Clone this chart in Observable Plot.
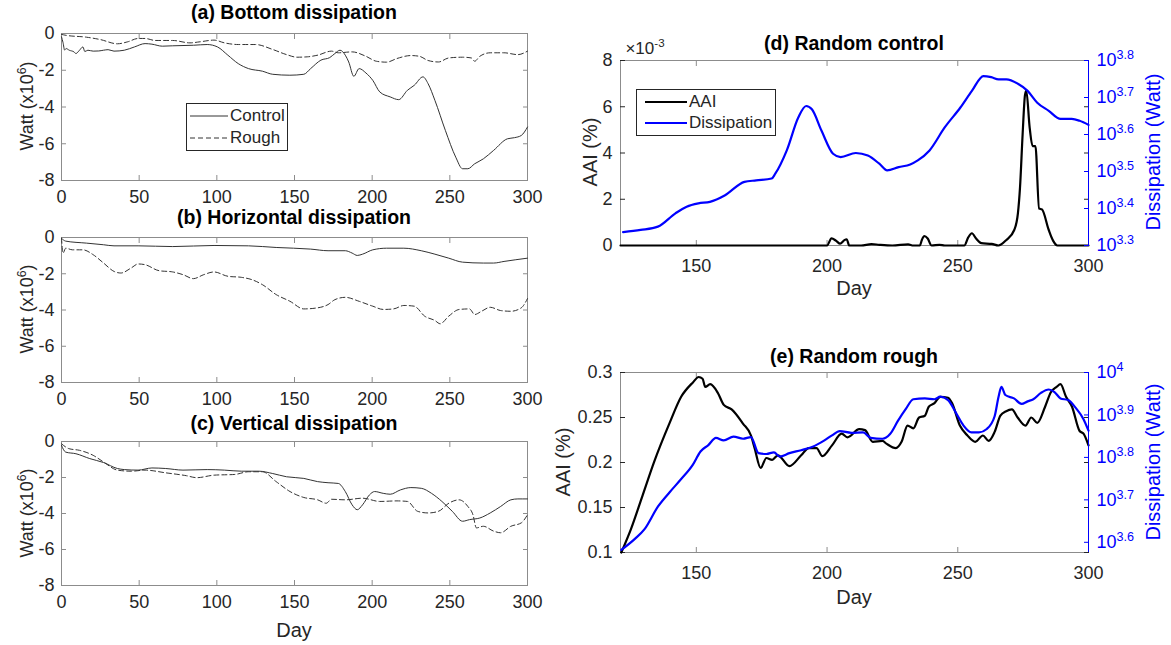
<!DOCTYPE html>
<html><head><meta charset="utf-8">
<script src="https://cdn.jsdelivr.net/npm/d3@7"></script>
<script src="https://cdn.jsdelivr.net/npm/@observablehq/plot@0.6"></script>
<style>
body{margin:0;background:#fff;}
#root{position:relative;width:1171px;height:645px;font-family:"Liberation Sans",Arial,sans-serif;color:#262626;overflow:hidden;background:#fff}
#root svg.pl{position:absolute;max-width:none}
.lab{position:absolute;white-space:nowrap;transform:translate(-50%,-50%);line-height:1}
.rot{transform:translate(-50%,-50%) rotate(-90deg)}
.ttl{font-weight:bold;font-size:19.5px;color:#000}
sup{font-size:0.68em;vertical-align:0.6em;line-height:0}
.leg{position:absolute;background:#fff;border:1px solid #262626;box-sizing:border-box}
.row{position:absolute;display:flex;align-items:center;white-space:nowrap}
</style></head><body><div id="root"></div>
<script>
// ---------- data ----------
const xTicksLeft = [0, 50, 100, 150, 200, 250, 300];
const yTicksLeft = [-8, -6, -4, -2, 0];
const xTicksRight = [150, 200, 250, 300];
const xDomainRight = [121, 300];
const aaiTicksD = [0, 2, 4, 6, 8];          // x10^-3
const aaiTicksE = [0.1, 0.15, 0.2, 0.25, 0.3];
const dissTicksD = [3.3, 3.4, 3.5, 3.6, 3.7, 3.8];  // log10 Watt
const dissTicksE = [3.6, 3.7, 3.8, 3.9, 4.0];

// (a) Bottom dissipation  [day, Watt x10^6]
const aControl = [[0,-0.18],[1,-0.5],[2,-0.9],[3,-0.82],[5,-0.91],[8,-1.0],[9.3,-1.09],[11.6,-0.91],[13.8,-0.73],[15,-0.98],[17,-0.91],[20.4,-0.96],[24,-0.95],[27,-0.91],[30,-0.88],[33.8,-0.96],[40.4,-0.91],[47,-0.73],[53.8,-0.55],[58.2,-0.58],[64.9,-0.69],[71.6,-0.67],[84.9,-0.64],[93.8,-0.6],[100.4,-0.73],[107.1,-1.18],[113.8,-1.64],[120.4,-1.91],[129.3,-2.05],[136,-2.22],[147,-2.27],[156,-2.22],[160.4,-1.91],[167,-1.45],[172.7,-1.31],[176,-1.09],[179.3,-0.91],[182.7,-1.18],[184.9,-1.55],[188.2,-2.33],[191.6,-1.91],[196,-2.15],[200.4,-2.55],[204.9,-3.18],[211.6,-3.45],[217.1,-3.6],[222.7,-3.09],[227.1,-2.82],[232.7,-2.36],[236,-2.73],[240.4,-3.64],[247.1,-5.27],[253.8,-6.73],[258.2,-7.36],[261.6,-7.36],[266,-7.09],[271.6,-6.82],[278.2,-6.36],[287.1,-5.73],[291.6,-5.67],[296,-5.55],[300,-5.09]];
const aRough = [[0,-0.05],[3,-0.1],[16,-0.2],[25,-0.33],[36,-0.56],[42.7,-0.45],[49.3,-0.27],[53.8,-0.27],[60.4,-0.38],[71.6,-0.38],[82.7,-0.51],[89.3,-0.45],[98.2,-0.36],[104.9,-0.51],[113.8,-0.6],[124.9,-0.6],[136,-0.87],[144.9,-1.15],[151.6,-1.29],[158.2,-1.27],[164.9,-1.18],[173.8,-0.96],[178.2,-1.05],[187.1,-1.0],[196,-1.24],[202.7,-1.51],[209.3,-1.56],[216,-1.36],[224.9,-1.2],[230.4,-1.24],[236,-1.47],[242.7,-1.55],[249.3,-1.33],[258.2,-1.29],[263.8,-1.33],[266,-1.51],[269.3,-1.24],[276,-1.05],[284.9,-1.05],[293.8,-1.15],[300,-0.96]];

// (b) Horizontal dissipation
const bControl = [[0,-0.04],[2.7,-0.2],[16,-0.31],[27.1,-0.4],[33.8,-0.46],[49.3,-0.46],[71.6,-0.5],[98.2,-0.44],[120.4,-0.46],[138.2,-0.55],[160.4,-0.64],[171.6,-0.73],[182.7,-0.73],[187.1,-0.86],[190.4,-0.99],[193.8,-0.92],[200.4,-0.68],[209.3,-0.59],[220.4,-0.59],[231.6,-0.73],[240.4,-0.92],[249.3,-1.14],[258.2,-1.36],[271.6,-1.41],[278.2,-1.41],[284.9,-1.32],[300,-1.14]];
const bRough = [[0,-0.04],[1,-0.86],[2.7,-0.59],[7.1,-0.68],[13.8,-0.68],[20.4,-0.95],[27.1,-1.41],[33.8,-1.87],[38.2,-1.96],[44.9,-1.68],[49.3,-1.46],[53.8,-1.5],[62.7,-1.83],[71.6,-1.9],[78.2,-2.05],[84.9,-2.27],[91.6,-2.05],[98.2,-1.9],[107.1,-2.14],[116,-2.2],[122.7,-2.33],[129.3,-2.6],[138.2,-3.15],[147.1,-3.52],[156,-3.94],[164.9,-3.88],[171.6,-3.7],[176,-3.43],[182.7,-3.3],[191.6,-3.52],[200.4,-3.79],[207.1,-3.97],[213.8,-3.94],[220.4,-3.75],[227.1,-3.79],[233.8,-4.34],[240.4,-4.58],[243.8,-4.76],[249.3,-4.34],[256,-3.97],[262.7,-3.94],[266,-4.25],[270.4,-4.07],[276,-3.85],[282.7,-4.03],[289.3,-4.07],[296,-3.88],[300,-3.37]];

// (c) Vertical dissipation
const cControl = [[0,-0.22],[2.7,-0.59],[9.3,-0.68],[18.2,-0.95],[27.1,-1.17],[36,-1.5],[40.4,-1.56],[49.3,-1.59],[58.2,-1.47],[67.1,-1.5],[78.2,-1.59],[93.8,-1.56],[104.9,-1.59],[116,-1.65],[127.1,-1.65],[136,-1.78],[144.9,-1.96],[156,-2.05],[164.9,-2.23],[171.6,-2.29],[178.2,-2.33],[182.7,-2.78],[187.1,-3.52],[190.4,-3.79],[193.8,-3.52],[198.2,-2.97],[201.6,-2.78],[207.1,-2.88],[211.6,-2.93],[218.2,-2.69],[224.9,-2.56],[231.6,-2.6],[238.2,-2.88],[244.9,-3.33],[251.6,-3.88],[258.2,-4.43],[262.7,-4.34],[269.3,-4.25],[276,-3.97],[282.7,-3.61],[289.3,-3.24],[293.8,-3.19],[300,-3.19]];
const cRough = [[0,-0.13],[4.9,-0.4],[11.6,-0.49],[20.4,-0.77],[27.1,-1.14],[36,-1.59],[44.9,-1.65],[53.8,-1.59],[67.1,-1.74],[80.4,-1.9],[87.1,-2.01],[98.2,-1.87],[111.6,-1.83],[120.4,-1.68],[129.3,-1.68],[138.2,-2.23],[147.1,-2.78],[156,-3.11],[164.9,-3.24],[170.4,-3.43],[173.8,-3.21],[182.7,-3.24],[193.8,-3.15],[204.9,-3.33],[216,-3.3],[222.7,-3.33],[229.3,-3.88],[236,-3.97],[242.7,-3.88],[249.3,-3.43],[256,-3.24],[261.6,-3.61],[264.9,-4.07],[267.1,-4.8],[271.6,-4.71],[278.2,-4.98],[282.7,-5.07],[289.3,-4.71],[296,-4.52],[300,-4.07]];

// (d) Random control: AAI (x10^-3 %), dissipation (log10 Watt)
const dAAI = [[121,0],[200,0],[201.7,0.31],[203.5,0.2],[205,0.08],[206.5,0.22],[207.5,0.27],[208.5,0],[213,0],[217,0.06],[220,0.03],[225,0],[231,0.05],[233,0],[235.5,0],[236.3,0.25],[237.2,0.41],[238.5,0.3],[240,0],[243,0.03],[245,0],[252.5,0],[254,0.35],[255.4,0.53],[257,0.3],[259,0.1],[263,0.07],[265.5,0],[268.6,0.24],[271.6,0.67],[273,1.39],[273.8,2.5],[274.8,4.8],[275.7,6.5],[276.2,6.7],[277.5,5.1],[278.6,4.3],[279.7,4.3],[281.1,1.6],[282.2,1.56],[284.8,0.67],[286.5,0.2],[288.1,0],[300,0]];
const dDiss = [[122,3.336],[128.7,3.342],[135.3,3.351],[142,3.387],[146.3,3.405],[150.8,3.414],[155.2,3.418],[161,3.436],[168.4,3.472],[172.9,3.476],[178.8,3.481],[180.2,3.494],[184.6,3.557],[189,3.646],[192,3.677],[194.2,3.668],[197.9,3.61],[202.3,3.548],[205.2,3.539],[211,3.55],[215.6,3.543],[220,3.521],[223,3.503],[227.4,3.512],[231.8,3.519],[234.7,3.53],[239.2,3.557],[245,3.619],[251,3.673],[255.4,3.718],[259.8,3.758],[262.8,3.755],[265.6,3.749],[268.6,3.749],[273,3.737],[276.7,3.718],[280.4,3.686],[284.8,3.664],[289.3,3.642],[293.6,3.642],[296.6,3.637],[300,3.626]];

// (e) Random rough
const eAAI = [[121.3,0.1],[125,0.126],[129.4,0.163],[133.9,0.201],[139.8,0.244],[144.2,0.273],[148.7,0.289],[150.9,0.295],[152.4,0.293],[153.4,0.284],[155.3,0.287],[158.3,0.277],[160.5,0.264],[163.5,0.259],[167.9,0.243],[170.9,0.23],[172.3,0.216],[174.6,0.194],[176.8,0.205],[179,0.203],[181.2,0.208],[185.6,0.196],[190.1,0.208],[193,0.216],[196,0.216],[198.2,0.207],[201.9,0.219],[205.6,0.232],[207.8,0.228],[212.3,0.237],[214.5,0.236],[217.5,0.223],[221.2,0.224],[222.7,0.221],[226.3,0.216],[228.5,0.223],[230.8,0.241],[233,0.238],[235.2,0.25],[237.4,0.252],[238.9,0.262],[241.1,0.266],[243.3,0.273],[246.3,0.272],[247.8,0.266],[250.8,0.241],[253.7,0.23],[256.7,0.223],[259.6,0.23],[261.8,0.224],[264.1,0.234],[266.3,0.252],[268.5,0.257],[270.7,0.259],[272.9,0.25],[275.9,0.241],[278.1,0.25],[280.4,0.244],[283.4,0.262],[285.6,0.278],[287.8,0.284],[289.3,0.287],[291.4,0.273],[293.7,0.262],[296.6,0.235],[298.1,0.232],[300,0.219]];
const eDiss = [[121.3,3.582],[126.5,3.608],[130.2,3.631],[135.3,3.684],[139.8,3.718],[144.2,3.749],[148.7,3.783],[151.6,3.814],[154.6,3.829],[157.5,3.846],[160.5,3.84],[164.2,3.849],[167.9,3.844],[170.9,3.848],[173.8,3.81],[176.8,3.808],[179.7,3.812],[181.9,3.802],[185.6,3.81],[190.1,3.817],[194.5,3.825],[199,3.84],[201.9,3.852],[204.9,3.862],[209.3,3.858],[213.8,3.859],[216.7,3.846],[221.2,3.844],[224.1,3.855],[227.1,3.886],[230,3.913],[233,3.937],[237.4,3.939],[241.1,3.937],[243.3,3.943],[246.3,3.935],[249.3,3.905],[252.2,3.875],[255.2,3.859],[258.1,3.859],[261.1,3.867],[264.1,3.897],[265.6,3.943],[266.7,3.966],[268.2,3.947],[271.5,3.939],[274.4,3.926],[276.7,3.932],[278.9,3.937],[281.8,3.952],[284.8,3.96],[287,3.954],[289.3,3.939],[292.2,3.935],[295.2,3.916],[298.1,3.89],[300,3.863]];

// ---------- rendering ----------
const root = document.getElementById("root");
const FONT = "Liberation Sans, Arial, Helvetica, sans-serif";
const AXC = "#8c8c8c", TXT = "#262626", BLUE = "#0000ff";
const baseStyle = {fontFamily: FONT, fontSize: "18px", color: TXT, background: "none", overflow: "visible"};
const fmt = d => String(+d.toFixed(2));
const CURVE = "monotone-x";

function place(svg, left, top) {
  svg.classList.add("pl");
  svg.style.left = left + "px";
  svg.style.top = top + "px";
  root.appendChild(svg);
}
function label(html, x, y, cls, extra) {
  const el = document.createElement("div");
  el.className = "lab " + (cls || "");
  el.innerHTML = html;
  el.style.left = x + "px"; el.style.top = y + "px";
  Object.assign(el.style, extra || {});
  root.appendChild(el);
}
function superscript(svg) {
  svg.querySelectorAll("text").forEach(t => {
    const s = t.textContent;
    if (s.startsWith("10^")) {
      t.textContent = "10";
      const ts = document.createElementNS("http://www.w3.org/2000/svg", "tspan");
      ts.setAttribute("dy", "-0.55em");
      ts.setAttribute("font-size", "0.7em");
      ts.textContent = s.slice(3);
      t.appendChild(ts);
    }
  });
}

function leftPanel(frameTop, frameBottom, ctrl, rough) {
  const mt = 10, mb = 30;
  const svg = Plot.plot({
    width: 560, height: frameBottom - frameTop + mt + mb,
    marginLeft: 61, marginRight: 33, marginTop: mt, marginBottom: mb,
    style: baseStyle,
    x: {domain: [0, 300], axis: null},
    y: {domain: [-8, 0], axis: null},
    marks: [
      Plot.frame({stroke: AXC}),
      Plot.axisX({ticks: xTicksLeft, anchor: "bottom", tickSize: -5, tickPadding: 15, stroke: AXC, fill: TXT, label: null, tickFormat: d => String(d)}),
      Plot.axisX({ticks: xTicksLeft, anchor: "top", tickSize: -5, stroke: AXC, label: null, tickFormat: () => ""}),
      Plot.axisY({ticks: yTicksLeft, anchor: "left", tickSize: -5, tickPadding: 12, stroke: AXC, fill: TXT, label: null, tickFormat: d => String(d)}),
      Plot.axisY({ticks: yTicksLeft, anchor: "right", tickSize: -5, stroke: AXC, label: null, tickFormat: () => ""}),
      Plot.line(ctrl, {x: d => d[0], y: d => d[1], stroke: "#333", strokeWidth: 1, curve: CURVE}),
      Plot.line(rough, {x: d => d[0], y: d => d[1], stroke: "#333", strokeWidth: 1, strokeDasharray: "5,3", curve: CURVE})
    ]
  });
  place(svg, 0, frameTop - mt);
}

function rightPanel(frameTop, frameBottom, aai, aaiDomain, aaiTicks, diss, dissDomainLog, dissTicks) {
  const mt = 10, mb = 34, W = 611, ml = 60, mr = 83;
  const H = frameBottom - frameTop + mt + mb;
  const base = Plot.plot({
    width: W, height: H, marginLeft: ml, marginRight: mr, marginTop: mt, marginBottom: mb,
    style: baseStyle,
    x: {domain: xDomainRight, axis: null},
    y: {domain: aaiDomain, axis: null},
    marks: [
      Plot.frame({stroke: AXC}),
      Plot.axisX({ticks: xTicksRight, anchor: "bottom", tickSize: -5, tickPadding: 19, stroke: AXC, fill: TXT, label: null, tickFormat: d => String(d)}),
      Plot.axisX({ticks: xTicksRight, anchor: "top", tickSize: -5, stroke: AXC, label: null, tickFormat: () => ""}),
      Plot.axisY({ticks: aaiTicks, anchor: "left", tickSize: -5, tickPadding: 13, stroke: "#262626", fill: TXT, label: null, tickFormat: fmt}),
      Plot.axisY({ticks: aaiTicks, anchor: "right", tickSize: -5, stroke: "#262626", label: null, tickFormat: () => ""}),
      Plot.line(aai, {x: d => d[0], y: d => d[1], stroke: "#000", strokeWidth: 2.2, curve: CURVE})
    ]
  });
  place(base, 560, frameTop - mt);
  const over = Plot.plot({
    width: W, height: H, marginLeft: ml, marginRight: mr, marginTop: mt, marginBottom: mb,
    style: baseStyle,
    x: {domain: xDomainRight, axis: null},
    y: {type: "log", domain: dissDomainLog.map(v => 10 ** v), axis: null},
    marks: [
      Plot.ruleX([xDomainRight[1]], {stroke: BLUE, strokeWidth: 1}),
      Plot.axisY({ticks: dissTicks.map(v => 10 ** v), anchor: "right", tickSize: -5, tickPadding: 13, stroke: BLUE, fill: BLUE, label: null,
                  tickFormat: d => "10^" + (+Math.log10(d).toFixed(1))}),
      Plot.line(diss, {x: d => d[0], y: d => 10 ** d[1], stroke: BLUE, strokeWidth: 2.2, curve: CURVE})
    ]
  });
  superscript(over);
  place(over, 560, frameTop - mt);
}

leftPanel(33, 180, aControl, aRough);
leftPanel(237, 382, bControl, bRough);
leftPanel(441, 585, cControl, cRough);
rightPanel(60, 245, dAAI, [0, 8], aaiTicksD, dDiss, [3.3, 3.8], dissTicksD);
rightPanel(372, 552, eAAI, [0.1, 0.3], aaiTicksE, eDiss, [3.576, 4.0], dissTicksE);

// titles
label("(a) Bottom dissipation", 294, 13, "ttl");
label("(b) Horizontal dissipation", 294, 218, "ttl");
label("(c) Vertical dissipation", 294, 424, "ttl");
label("(d) Random control", 854, 44, "ttl");
label("(e) Random rough", 854, 357, "ttl");

// axis labels
const wl = {fontSize: "18px"};
label("Watt (x10<sup>6</sup>)", 27, 106, "rot", wl);
label("Watt (x10<sup>6</sup>)", 27, 309, "rot", wl);
label("Watt (x10<sup>6</sup>)", 27, 513, "rot", wl);
label("Day", 294, 630, "", {fontSize: "20px"});
label("Day", 854, 288, "", {fontSize: "20px"});
label("Day", 854, 597, "", {fontSize: "20px"});
label("AAI (%)", 590, 152, "rot", {fontSize: "20px"});
label("AAI (%)", 563, 462, "rot", {fontSize: "20px"});
label("Dissipation (Watt)", 1153, 152, "rot", {fontSize: "20px", color: BLUE});
label("Dissipation (Watt)", 1153, 462, "rot", {fontSize: "20px", color: BLUE});
label("×10<sup>-3</sup>", 645, 48, "", {fontSize: "17px"});

// legends
function legend(x, y, w, h, items, font) {
  const box = document.createElement("div");
  box.className = "leg";
  Object.assign(box.style, {left: x + "px", top: y + "px", width: w + "px", height: h + "px"});
  items.forEach((it, i) => {
    const row = document.createElement("div");
    row.className = "row";
    Object.assign(row.style, {left: it.lx + "px", top: it.y + "px", height: "20px", fontSize: font + "px", color: TXT});
    row.innerHTML = `<svg width="${it.len}" height="6" style="margin-right:2px"><line x1="0" y1="3" x2="${it.len}" y2="3" stroke="${it.color}" stroke-width="${it.width}" ${it.dash ? `stroke-dasharray="${it.dash}"` : ""}/></svg>${it.text}`;
    box.appendChild(row);
  });
  root.appendChild(box);
}
legend(186, 103, 102, 48, [
  {text: "Control", color: "#333", width: 1, len: 38, lx: 3, y: 2},
  {text: "Rough", color: "#333", width: 1, len: 38, lx: 3, y: 24, dash: "5,3"}
], 17);
legend(636, 89, 140, 47, [
  {text: "AAI", color: "#000", width: 2.2, len: 42, lx: 8, y: 2},
  {text: "Dissipation", color: BLUE, width: 2.2, len: 42, lx: 8, y: 23}
], 17);
</script></body></html>
